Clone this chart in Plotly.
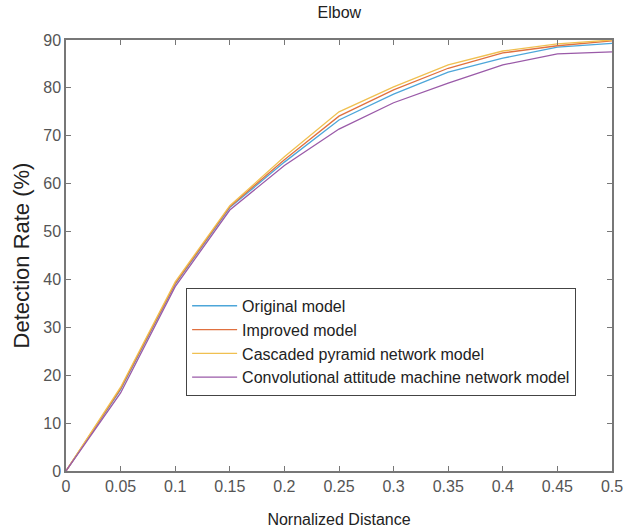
import plotly.graph_objects as go

x_vals = [0, 0.05, 0.1, 0.15, 0.2, 0.25, 0.3, 0.35, 0.4, 0.45, 0.5]
x_labels = ["0", "0.05", "0.1", "0.15", "0.2", "0.25", "0.3", "0.35", "0.4", "0.45", "0.5"]
y_ticks = [0, 10, 20, 30, 40, 50, 60, 70, 80, 90]
original = [0, 17.0, 39.0, 55.0, 64.5, 73.3, 78.7, 83.3, 86.2, 88.5, 89.3]
improved = [0, 17.2, 39.2, 55.2, 65.0, 74.1, 79.6, 84.1, 87.3, 88.8, 89.8]
cascaded = [0, 17.5, 39.5, 55.4, 65.6, 75.0, 80.2, 84.8, 87.7, 89.2, 90.0]
conv = [0, 16.3, 38.5, 54.5, 63.8, 71.4, 76.9, 81.0, 84.8, 87.1, 87.5]

series = [
    ("Original model", original, "#4DA6D9"),
    ("Improved model", improved, "#E0703F"),
    ("Cascaded pyramid network model", cascaded, "#F0C050"),
    ("Convolutional attitude machine network model", conv, "#9A5AA8"),
]

fig = go.Figure()
for name, vals, color in series:
    fig.add_trace(go.Scatter(x=x_vals, y=vals, mode="lines", name=name,
                             line=dict(color=color, width=1.3)))

axis_common = dict(showgrid=False, zeroline=False, showline=True, linecolor="#777777",
                   linewidth=1.5, mirror="ticks", ticks="inside", ticklen=5,
                   tickcolor="#777777", tickfont=dict(size=16, color="#555555"),
                   automargin=False)

fig.update_layout(
    width=625, height=529,
    margin=dict(l=66, r=13, t=40, b=58),
    paper_bgcolor="white", plot_bgcolor="white",
    font=dict(family="Liberation Sans, Arial, sans-serif", color="#222222"),
    title=dict(text="Elbow", x=0.543, xanchor="center", y=1 - 12 / 529, yanchor="middle",
               font=dict(size=16, color="#222222")),
    xaxis=dict(range=[0, 0.5], tickvals=x_vals, ticktext=x_labels,
               title=dict(text="Nornalized Distance", font=dict(size=16, color="#222222"), standoff=20),
               **axis_common),
    yaxis=dict(range=[0, 90], tickvals=y_ticks,
               title=dict(text="Detection Rate (%)", font=dict(size=22, color="#222222"), standoff=8),
               **axis_common),
    legend=dict(x=0.22, y=0.425, xanchor="left", yanchor="top",
                bgcolor="white", bordercolor="#444444", borderwidth=1,
                font=dict(size=16, color="#222222"), tracegroupgap=0, itemwidth=45),
    showlegend=True,
)

fig.write_html("out.html", config={"displayModeBar": False},
               post_script="document.body.style.margin='0';")
